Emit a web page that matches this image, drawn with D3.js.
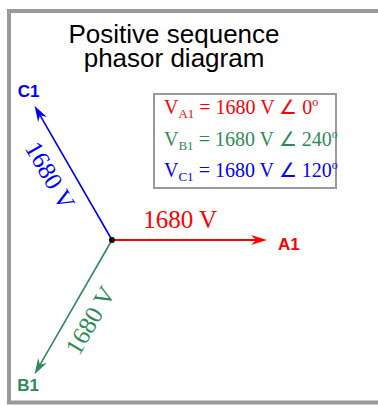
<!DOCTYPE html>
<html>
<head>
<meta charset="utf-8">
<script src="https://cdn.jsdelivr.net/npm/d3@7"></script>
<style>
  html, body { margin: 0; padding: 0; background: #fff; }
  svg { display: block; }
</style>
</head>
<body>
<div id="chart"></div>
<script>
// ---- Data ----
const phases = ["A1", "B1", "C1"];
const magnitudes = [1680, 1680, 1680];      // volts
const angles = [0, 240, 120];               // degrees
const colors = ["#ff0000", "#2e8b57", "#0000ff"];
const titleLines = ["Positive sequence", "phasor diagram"];
const unit = "V";

// ---- Layout ----
const W = 378, H = 405;
const cx = 112, cy = 240;
const svg = d3.select("#chart").append("svg").attr("width", W).attr("height", H);

// frame
svg.append("rect").attr("x", 9).attr("y", 11).attr("width", 400).attr("height", 391.5)
  .attr("fill", "#fff").attr("stroke", "#999").attr("stroke-width", 4);

// title
svg.append("g").selectAll("text").data(titleLines).join("text")
  .attr("x", 174).attr("y", (d, i) => 43 + i * 24)
  .attr("text-anchor", "middle")
  .attr("font-family", "'Liberation Sans', Arial, sans-serif")
  .attr("font-size", 26).attr("fill", "#000")
  .text(d => d);

// scale for magnitude
const r = d3.scaleLinear().domain([0, 1680]).range([0, 155]);
const rad = d => d * Math.PI / 180;

const data = phases.map((p, i) => ({ name: p, mag: magnitudes[i], ang: angles[i], color: colors[i] }));

const labelAlong = { A1: 0.44, B1: 0.52, C1: 0.56 };
const nameOffset = { A1: [11, 10, "start"], B1: [-6.5, 17, "middle"], C1: [-6, -9, "middle"] };

const g = svg.append("g");
data.forEach(d => {
  const L = r(d.mag);
  const ux = Math.cos(rad(d.ang)), uy = -Math.sin(rad(d.ang));
  const tx = cx + L * ux, ty = cy + L * uy;
  // shaft
  g.append("line")
    .attr("x1", cx).attr("y1", cy)
    .attr("x2", tx - 10 * ux).attr("y2", ty - 10 * uy)
    .attr("stroke", d.color).attr("stroke-width", d.name === "A1" ? 2 : 1.6);
  // arrowhead
  const deg = Math.atan2(uy, ux) * 180 / Math.PI;
  g.append("path")
    .attr("d", "M0,0 L-16,-5 L-11,0 L-16,5 Z")
    .attr("transform", `translate(${tx},${ty}) rotate(${deg})`)
    .attr("fill", d.color);
  // magnitude label
  const along = L * labelAlong[d.name];
  const px = -uy, py = ux; // perpendicular
  // left-of-direction (CCW) in screen coords
  const lx = uy, ly = -ux;
  const ax = cx + along * ux + 21 * lx;
  const ay = cy + along * uy + 21 * ly;
  let rot = -d.ang;
  while (rot <= -90) rot += 180;
  while (rot > 90) rot -= 180;
  g.append("text")
    .attr("transform", `translate(${ax},${ay}) rotate(${rot})`)
    .attr("text-anchor", "middle").attr("dy", "0.35em")
    .attr("font-family", "'Liberation Serif', 'Times New Roman', serif")
    .attr("font-size", 25).attr("fill", d.color)
    .text(`${d.mag} ${unit}`);
  // phase name
  const o = nameOffset[d.name];
  g.append("text")
    .attr("x", tx + o[0]).attr("y", ty + o[1])
    .attr("text-anchor", o[2])
    .attr("font-family", "'Liberation Sans', Arial, sans-serif")
    .attr("font-weight", "bold").attr("font-size", 17)
    .attr("fill", d.color).text(d.name);
});

// center dot
svg.append("circle").attr("cx", cx).attr("cy", cy).attr("r", 3).attr("fill", "#000");

// legend
const leg = svg.append("g");
leg.append("rect").attr("x", 154).attr("y", 94).attr("width", 182).attr("height", 94)
  .attr("fill", "#fff").attr("stroke", "#999").attr("stroke-width", 2);
data.forEach((d, i) => {
  const t = leg.append("text")
    .attr("x", 164).attr("y", 114 + i * 31.5)
    .attr("font-family", "'Liberation Serif', 'Times New Roman', serif")
    .attr("font-size", 20).attr("fill", d.color);
  t.append("tspan").text("V");
  t.append("tspan").attr("dy", 4).attr("font-size", 13).text(d.name);
  t.append("tspan").attr("dy", -4).text(` = ${d.mag} ${unit} \u2220 ${d.ang}`);
  t.append("tspan").attr("dy", -8).attr("font-size", 12).text("o");
});
</script>
</body>
</html>
